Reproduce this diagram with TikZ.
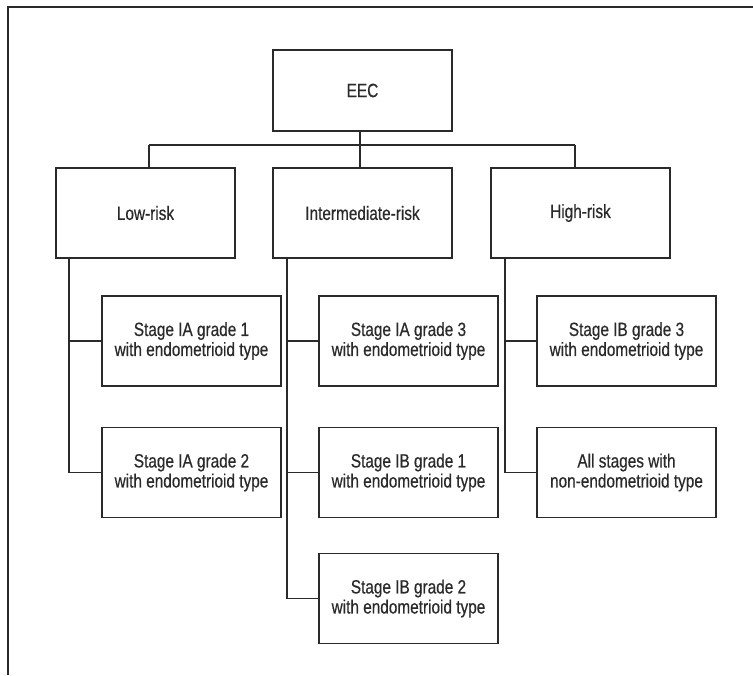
\documentclass[tikz,border=0pt]{standalone}
\usepackage{fontspec}
\setmainfont{Liberation Sans}[FakeStretch=0.80,FakeBold=0.5]
\definecolor{ink}{HTML}{2A2A2A}
\begin{document}
\begin{tikzpicture}[x=0.75pt,y=-0.75pt,
  box/.style={draw=ink,line width=1.2pt,minimum width=134.25pt,minimum height=67.5pt,inner sep=0pt,align=center,text=ink,font=\fontsize{14.4pt}{15pt}\selectfont},
  topbox/.style={box,minimum height=60.75pt},
  conn/.style={draw=ink,line width=1.2pt},
  frame/.style={draw=ink,line width=1.1pt}]
\useasboundingbox (0,0) rectangle (753,675);
\draw[frame] (8,675) -- (8,7) -- (753,7);

\node[topbox] (eec) at (362.5,90.5) {EEC};
\node[box] (low)  at (145.5,213) {Low-risk};
\node[box] (mid)  at (362.5,213) {Intermediate-risk};
\node[box] (high) at (580.5,213) {High-risk};

\node[box] (la) at (191.5,341) {Stage IA grade 1\\with endometrioid type};
\node[box] (lb) at (191.5,472.5) {Stage IA grade 2\\with endometrioid type};
\node[box] (ma) at (408.5,341) {Stage IA grade 3\\with endometrioid type};
\node[box] (mb) at (408.5,472.5) {Stage IB grade 1\\with endometrioid type};
\node[box] (mc) at (408.5,598.5) {Stage IB grade 2\\with endometrioid type};
\node[box] (ha) at (626.5,341) {Stage IB grade 3\\with endometrioid type};
\node[box] (hb) at (626.5,472.5) {All stages with\\non-endometrioid type};

\coordinate (busL) at (149,145);
\coordinate (busM) at (360,145);
\coordinate (busR) at (575,145);
\coordinate (tL) at (69,0);
\coordinate (tM) at (287,0);
\coordinate (tR) at (505,0);

\draw[conn] (eec.south -| busM) -- (busM);
\draw[conn] (busL) -- (busR);
\draw[conn] (busL) -- (low.north -| busL);
\draw[conn] (busM) -- (mid.north -| busM);
\draw[conn] (busR) -- (high.north -| busR);

\draw[conn] (low.south -| tL) |- (la.west);
\draw[conn] (low.south -| tL) |- (lb.west);
\draw[conn] (mid.south -| tM) |- (ma.west);
\draw[conn] (mid.south -| tM) |- (mb.west);
\draw[conn] (mid.south -| tM) |- (mc.west);
\draw[conn] (high.south -| tR) |- (ha.west);
\draw[conn] (high.south -| tR) |- (hb.west);
\end{tikzpicture}
\end{document}
